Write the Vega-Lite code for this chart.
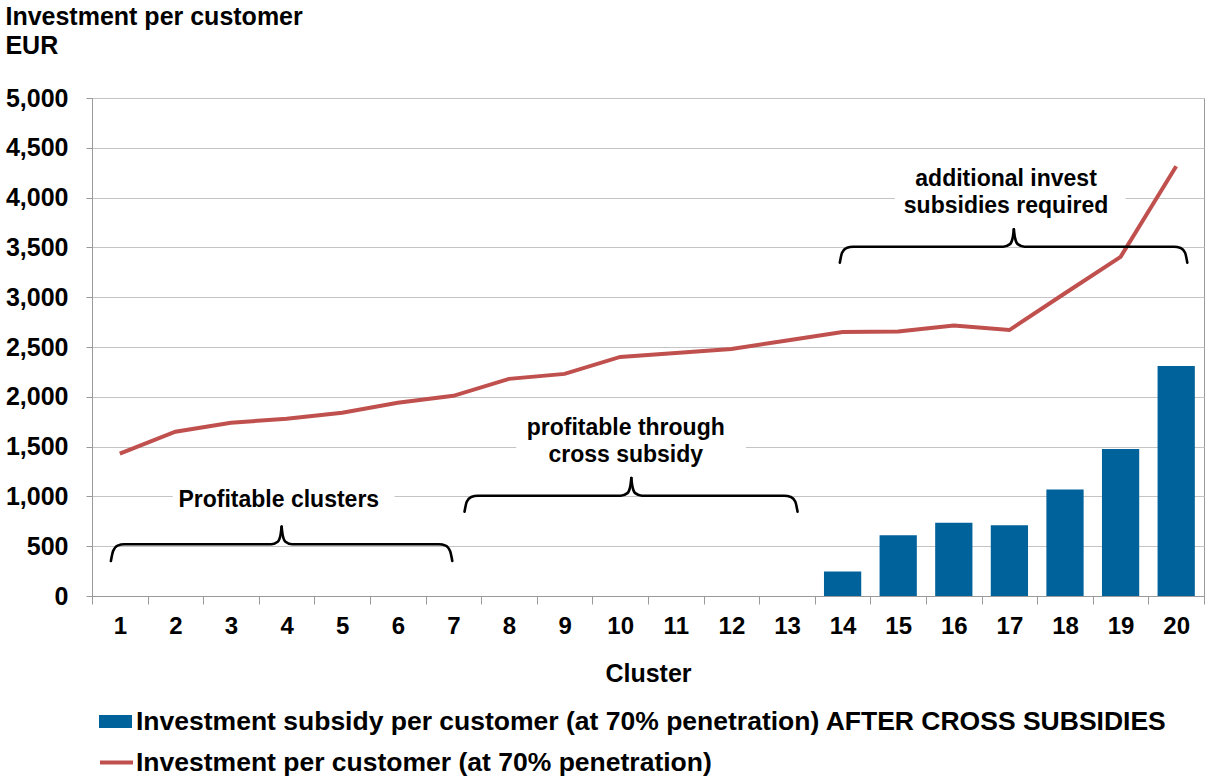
{
  "$schema": "https://vega.github.io/schema/vega-lite/v6.json",
  "width": 1112,
  "height": 498,
  "padding": {"left": 5, "top": 5, "right": 0, "bottom": 0},
  "autosize": {"type": "pad"},
  "title": {
    "text": ["Investment per customer", "EUR"],
    "anchor": "start",
    "frame": "bounds",
    "font": "Liberation Sans",
    "fontSize": 25,
    "fontWeight": "bold",
    "lineHeight": 29,
    "offset": 27,
    "color": "#000000"
  },
  "config": {
    "font": "Liberation Sans",
    "view": {"stroke": "#9a9a9a"},
    "axis": {
      "labelFont": "Liberation Sans",
      "labelFontWeight": "bold",
      "labelColor": "#000000",
      "titleFont": "Liberation Sans",
      "titleFontWeight": "bold",
      "titleColor": "#000000",
      "domainColor": "#9a9a9a",
      "tickColor": "#9a9a9a"
    },
    "axisY": {
      "gridColor": "#c4c4c4",
      "labelFontSize": 25,
      "tickSize": 6,
      "labelPadding": 18,
      "values": [0, 500, 1000, 1500, 2000, 2500, 3000, 3500, 4000, 4500, 5000],
      "format": ",.0f"
    }
  },
  "datasets": {
    "clusters": [
      {"cluster": 1, "invest": 1430, "subsidy": null},
      {"cluster": 2, "invest": 1650, "subsidy": null},
      {"cluster": 3, "invest": 1740, "subsidy": null},
      {"cluster": 4, "invest": 1780, "subsidy": null},
      {"cluster": 5, "invest": 1840, "subsidy": null},
      {"cluster": 6, "invest": 1940, "subsidy": null},
      {"cluster": 7, "invest": 2010, "subsidy": null},
      {"cluster": 8, "invest": 2180, "subsidy": null},
      {"cluster": 9, "invest": 2230, "subsidy": null},
      {"cluster": 10, "invest": 2400, "subsidy": null},
      {"cluster": 11, "invest": 2440, "subsidy": null},
      {"cluster": 12, "invest": 2480, "subsidy": null},
      {"cluster": 13, "invest": 2565, "subsidy": null},
      {"cluster": 14, "invest": 2650, "subsidy": 245},
      {"cluster": 15, "invest": 2655, "subsidy": 610},
      {"cluster": 16, "invest": 2715, "subsidy": 735},
      {"cluster": 17, "invest": 2670, "subsidy": 710},
      {"cluster": 18, "invest": 3040, "subsidy": 1070},
      {"cluster": 19, "invest": 3405, "subsidy": 1475},
      {"cluster": 20, "invest": 4315, "subsidy": 2310}
    ],
    "boxes": [
      {"bx": 1.95, "bx2": 5.94, "by": 960, "by2": 1040},
      {"bx": 8.13, "bx2": 12.26, "by": 1460, "by2": 1540},
      {"bx": 14.94, "bx2": 19.09, "by": 3960, "by2": 4040}
    ],
    "braces": [
      {"half": "1L", "bx": 0.84, "by": 351},
      {"half": "1L", "bx": 0.88, "by": 451},
      {"half": "1L", "bx": 0.96, "by": 506},
      {"half": "1L", "bx": 1.08, "by": 519},
      {"half": "1L", "bx": 3.72, "by": 519},
      {"half": "1L", "bx": 3.84, "by": 545},
      {"half": "1L", "bx": 3.89, "by": 610},
      {"half": "1L", "bx": 3.91, "by": 696},
      {"half": "1R", "bx": 3.91, "by": 696},
      {"half": "1R", "bx": 3.93, "by": 610},
      {"half": "1R", "bx": 3.98, "by": 545},
      {"half": "1R", "bx": 4.10, "by": 519},
      {"half": "1R", "bx": 6.74, "by": 519},
      {"half": "1R", "bx": 6.86, "by": 506},
      {"half": "1R", "bx": 6.94, "by": 451},
      {"half": "1R", "bx": 6.98, "by": 351},
      {"half": "2L", "bx": 7.20, "by": 846},
      {"half": "2L", "bx": 7.24, "by": 946},
      {"half": "2L", "bx": 7.32, "by": 994},
      {"half": "2L", "bx": 7.44, "by": 1007},
      {"half": "2L", "bx": 10.01, "by": 1007},
      {"half": "2L", "bx": 10.13, "by": 1033},
      {"half": "2L", "bx": 10.18, "by": 1098},
      {"half": "2L", "bx": 10.20, "by": 1185},
      {"half": "2R", "bx": 10.20, "by": 1185},
      {"half": "2R", "bx": 10.22, "by": 1098},
      {"half": "2R", "bx": 10.27, "by": 1033},
      {"half": "2R", "bx": 10.39, "by": 1007},
      {"half": "2R", "bx": 12.95, "by": 1007},
      {"half": "2R", "bx": 13.07, "by": 994},
      {"half": "2R", "bx": 13.15, "by": 946},
      {"half": "2R", "bx": 13.19, "by": 846},
      {"half": "3L", "bx": 13.95, "by": 3346},
      {"half": "3L", "bx": 13.99, "by": 3446},
      {"half": "3L", "bx": 14.07, "by": 3494},
      {"half": "3L", "bx": 14.19, "by": 3507},
      {"half": "3L", "bx": 16.89, "by": 3507},
      {"half": "3L", "bx": 17.01, "by": 3533},
      {"half": "3L", "bx": 17.06, "by": 3598},
      {"half": "3L", "bx": 17.08, "by": 3682},
      {"half": "3R", "bx": 17.08, "by": 3682},
      {"half": "3R", "bx": 17.10, "by": 3598},
      {"half": "3R", "bx": 17.15, "by": 3533},
      {"half": "3R", "bx": 17.27, "by": 3507},
      {"half": "3R", "bx": 19.96, "by": 3507},
      {"half": "3R", "bx": 20.08, "by": 3494},
      {"half": "3R", "bx": 20.16, "by": 3446},
      {"half": "3R", "bx": 20.20, "by": 3346}
    ],
    "labels": [
      {"bx": 3.86, "by": 964, "label": "Profitable clusters"},
      {"bx": 10.1, "by": 1687, "label": "profitable through"},
      {"bx": 10.1, "by": 1419, "label": "cross subsidy"},
      {"bx": 16.94, "by": 4184, "label": "additional invest"},
      {"bx": 16.94, "by": 3916, "label": "subsidies required"}
    ]
  },
  "layer": [
    {
      "data": {"name": "clusters"},
      "layer": [
        {
          "transform": [{"filter": "datum.subsidy != null"}],
          "mark": {"type": "bar", "width": {"band": 0.67}},
          "encoding": {
            "x": {
              "field": "cluster",
              "type": "ordinal",
              "scale": {"paddingInner": 0, "paddingOuter": 0},
              "axis": {
                "title": "Cluster",
                "tickBand": "extent",
                "labelAngle": 0,
                "tickSize": 8,
                "labelPadding": 10,
                "titlePadding": 23,
                "labelFontSize": 24,
                "titleFontSize": 25,
                "grid": false
              }
            },
            "y": {
              "field": "subsidy",
              "type": "quantitative",
              "scale": {"domain": [0, 5000], "nice": false},
              "axis": {"title": null}
            },
            "fill": {
              "datum": "Investment subsidy per customer (at 70% penetration) AFTER CROSS SUBSIDIES",
              "type": "nominal",
              "scale": {"range": ["#00629B"]},
              "legend": {
                "orient": "none",
                "legendX": 7,
                "legendY": 607,
                "title": null,
                "symbolType": "M-1,-0.4H1V0.4H-1Z",
                "symbolSize": 1089,
                "symbolStrokeWidth": 0,
                "labelFont": "Liberation Sans",
                "labelFontSize": 26.5,
                "labelFontWeight": "bold",
                "labelColor": "#000000",
                "labelLimit": 0,
                "labelOffset": 4,
                "padding": 0
              }
            }
          }
        },
        {
          "mark": {"type": "line", "strokeWidth": 4},
          "encoding": {
            "x": {"field": "cluster", "type": "ordinal"},
            "y": {"field": "invest", "type": "quantitative", "axis": {"title": null}},
            "stroke": {
              "datum": "Investment per customer (at 70% penetration)",
              "type": "nominal",
              "scale": {"range": ["#C0504D"]},
              "legend": {
                "orient": "none",
                "legendX": 6,
                "legendY": 646,
                "title": null,
                "symbolType": "stroke",
                "symbolSize": 1089,
                "symbolStrokeWidth": 4,
                "labelFont": "Liberation Sans",
                "labelFontSize": 26.5,
                "labelFontWeight": "bold",
                "labelColor": "#000000",
                "labelLimit": 0,
                "labelOffset": 1,
                "padding": 0
              }
            }
          }
        }
      ]
    },
    {
      "layer": [
        {
          "data": {"name": "boxes"},
          "mark": {"type": "rect", "fill": "#ffffff"},
          "encoding": {
            "x": {"field": "bx", "type": "quantitative", "scale": {"domain": [0.5, 20.5], "nice": false, "zero": false}, "axis": null},
            "x2": {"field": "bx2"},
            "y": {"field": "by", "type": "quantitative", "axis": {"title": null}},
            "y2": {"field": "by2"}
          }
        },
        {
          "data": {"name": "braces"},
          "mark": {"type": "line", "interpolate": "monotone", "stroke": "#000000", "strokeWidth": 2.6, "strokeCap": "round"},
          "encoding": {
            "x": {"field": "bx", "type": "quantitative", "axis": null},
            "y": {"field": "by", "type": "quantitative", "axis": {"title": null}},
            "detail": {"field": "half", "type": "nominal"}
          }
        },
        {
          "data": {"name": "labels"},
          "mark": {"type": "text", "font": "Liberation Sans", "fontSize": 23, "fontWeight": "bold", "color": "#000000", "align": "center", "baseline": "middle"},
          "encoding": {
            "x": {"field": "bx", "type": "quantitative", "axis": null},
            "y": {"field": "by", "type": "quantitative", "axis": {"title": null}},
            "text": {"field": "label"}
          }
        }
      ]
    }
  ],
  "resolve": {"scale": {"x": "independent"}}
}
